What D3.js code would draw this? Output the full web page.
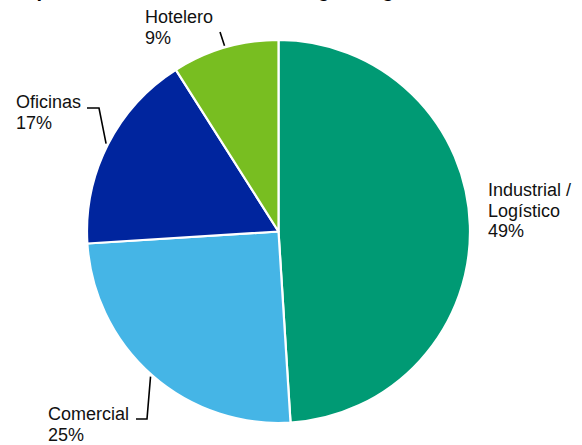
<!DOCTYPE html>
<html>
<head>
<meta charset="utf-8">
<script src="https://cdn.jsdelivr.net/npm/d3@7/dist/d3.min.js"></script>
<style>
  html, body { margin: 0; padding: 0; background: #ffffff; }
  svg { display: block; }
</style>
</head>
<body>
<svg id="chart" width="582" height="445"></svg>
<script>
// ---- Data ----
const categories = ["Industrial / Logístico", "Comercial", "Oficinas", "Hotelero"];
const values = [49, 25, 17, 9];
const labelLines = [["Industrial /", "Logístico", "49%"], ["Comercial", "25%"], ["Oficinas", "17%"], ["Hotelero", "9%"]];
const colors = ["#009A74", "#45B5E6", "#00259E", "#78BE21"];
const titleText = "Composición de la cartera total según segmento";

// ---- Layout (positions kept separate from data) ----
const W = 582, H = 445;
const cx = 278.5, cy = 231.5, R = 191.5;
// label anchor (x, first baseline), optional leader elbow & end
const labelLayout = [
  { x: 488, y: 196, leader: null },
  { x: 48,  y: 420, leader: [[136, 419], [147, 419]] },
  { x: 16,  y: 108, leader: [[87, 108], [99, 108]] },
  { x: 145, y: 23,  leader: [[220, 32]] }
];
const lineHeight = 20.7;

const svg = d3.select("#chart");

// Title (cropped at the top, as in the reference)
svg.append("text")
  .attr("x", -8).attr("y", -3)
  .attr("font-family", "Liberation Sans, Arial, sans-serif")
  .attr("font-size", 20).attr("font-weight", "bold")
  .attr("fill", "#000")
  .text(titleText);

const pie = d3.pie().sort(null).value(d => d).startAngle(0).endAngle(2 * Math.PI);
const arcs = pie(values);
const arc = d3.arc().innerRadius(0).outerRadius(R);

const g = svg.append("g").attr("transform", `translate(${cx},${cy})`);
g.selectAll("path.slice")
  .data(arcs)
  .join("path")
  .attr("class", "slice")
  .attr("d", arc)
  .attr("fill", (d, i) => colors[i])
  .attr("stroke", "#ffffff")
  .attr("stroke-width", 2.2)
  .attr("stroke-linejoin", "round");

// Leader lines
const edgePoint = (d, rr) => {
  const a = (d.startAngle + d.endAngle) / 2;
  return [cx + rr * Math.sin(a), cy - rr * Math.cos(a)];
};
const line = d3.line();
arcs.forEach((d, i) => {
  const L = labelLayout[i];
  if (!L.leader) return;
  const pts = L.leader.concat([edgePoint(d, R + 2)]);
  svg.append("path")
    .attr("d", line(pts))
    .attr("fill", "none")
    .attr("stroke", "#000")
    .attr("stroke-width", 1.6);
});

// Labels
arcs.forEach((d, i) => {
  const L = labelLayout[i];
  const t = svg.append("text")
    .attr("font-family", "Liberation Sans, Arial, sans-serif")
    .attr("font-size", 18)
    .attr("fill", "#111");
  labelLines[i].forEach((s, k) => {
    t.append("tspan").attr("x", L.x).attr("y", L.y + k * lineHeight).text(s);
  });
});
</script>
</body>
</html>
